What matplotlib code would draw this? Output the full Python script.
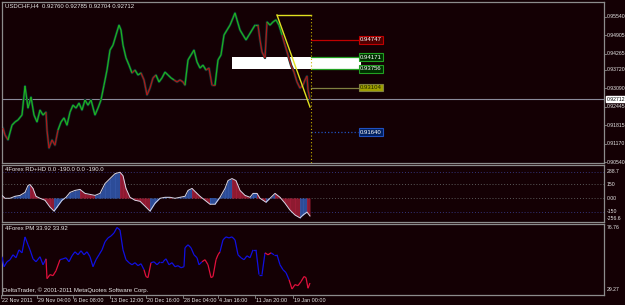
import matplotlib
matplotlib.use('Agg')
import matplotlib.pyplot as plt
from matplotlib.collections import LineCollection
from matplotlib.patches import Rectangle
from matplotlib.transforms import blended_transform_factory
import numpy as np

BG = '#140004'
GRID = '#8c8c8c'
FONT = ['Liberation Sans', 'DejaVu Sans']
plt.rcParams['font.family'] = FONT

W, H = 625, 305

# ---------------- data ----------------
title = "USDCHF,H4  0.92760 0.92785 0.92704 0.92712"
price_ticks = [0.95540, 0.94905, 0.94265, 0.93720, 0.93090, 0.92445, 0.91815, 0.91170, 0.90540]
price_tick_labels = ["0.95540", "0.94905", "0.94265", "0.93720", "0.93090", "0.92445", "0.91815", "0.91170", "0.90540"]
current_price = 0.92712

main_bars = [3, 5, 8, 12, 15, 18, 22, 25, 28, 31, 34, 37, 40, 43, 46, 47, 49, 52, 55, 58,
             61, 64, 67, 70, 73, 76, 79, 82, 85, 88, 91, 95, 98, 101, 104, 107, 110, 113, 116, 119,
             121, 123, 126, 129, 132, 135, 138, 141, 144, 147, 150, 153, 156, 159, 162, 165, 168, 171, 174, 177,
             180, 183, 185, 188, 191, 194, 197, 200, 203, 206, 209, 212, 215, 218, 221, 224, 227, 230, 233, 235,
             237, 240, 243, 246, 249, 252, 255, 258, 260, 262, 265, 267, 270, 273, 276, 279, 282, 285, 288, 291,
             294, 297, 300, 303, 305, 307, 308, 310]
main_close = [0.9171, 0.9147, 0.9130, 0.9181, 0.9192, 0.9199, 0.9216, 0.9316, 0.9240, 0.9278,
              0.9216, 0.9192, 0.9233, 0.9216, 0.9226, 0.9164, 0.9102, 0.9130, 0.9112, 0.9164,
              0.9192, 0.9206, 0.9181, 0.9226, 0.9250, 0.9240, 0.9257, 0.9233, 0.9268, 0.9250,
              0.9268, 0.9216, 0.9240, 0.9268, 0.9319, 0.9371, 0.9440, 0.9457, 0.9492, 0.9526,
              0.9509, 0.9457, 0.9413, 0.9388, 0.9361, 0.9371, 0.9354, 0.9361, 0.9337, 0.9285,
              0.9309, 0.9344, 0.9354, 0.9330, 0.9344, 0.9364, 0.9354, 0.9344, 0.9337, 0.9330,
              0.9337, 0.9330, 0.9319, 0.9406, 0.9423, 0.9440, 0.9399, 0.9378, 0.9388, 0.9371,
              0.9378, 0.9319, 0.9319, 0.9406, 0.9423, 0.9492, 0.9509, 0.9526, 0.9551, 0.9568,
              0.9544, 0.9509, 0.9492, 0.9475, 0.9492, 0.9509, 0.9526, 0.9526, 0.9475, 0.9433,
              0.9413, 0.9537, 0.9526, 0.9537, 0.9544, 0.9526, 0.9492, 0.9457, 0.9423, 0.9388,
              0.9364, 0.9330, 0.9309, 0.9319, 0.9337, 0.9350, 0.9302, 0.92712]
main_trend = ("grrggggggggggggrrrrrgggggggggggggggggggggggggrggrrrrrggggggrrrrgggggggrrrggggggg"
              "ggggggggrrrrgggggrrrrrrrrrrrr")

zone_top, zone_bottom = 0.9416, 0.9375
zone_start, zone_end = 232, 361
tri_start, tri_end = 277, 311
tri_high, tri_low = 0.95609, 0.92435
level_values = [0.94747, 0.9416, 0.9375, 0.93104, 0.91573]
level_labels = ["0.94747", "0.94171", "0.93756", "0.93104", "0.91640"]
level_colors = ['#c00000', '#22a022', '#22a022', '#808040', '#2050c0']
level_box_face = ['#500000', '#003000', '#003000', '#a0a000', '#002060']

rd_title = "4Forex RD+HD 0.0 -190.0 0.0 -190.0"
rd_bars = [2, 5, 10, 15, 20, 25, 28, 30, 33, 36, 40, 45, 50, 54, 57, 62, 66, 70, 75, 80,
           85, 90, 95, 100, 105, 110, 115, 120, 123, 126, 130, 135, 140, 145, 150, 155, 160, 165, 170, 175,
           180, 185, 188, 192, 196, 200, 205, 210, 215, 220, 225, 228, 232, 236, 240, 245, 250, 253, 257, 260,
           263, 266, 270, 275, 280, 285, 290, 295, 300, 303, 307, 310]
rd_values = [29, -3, -3, 19, 29, 62, 138, 149, 106, 19, -3, -25, -101, -145, -101, -25, 8, 62, 84, 95,
             51, 40, 29, 51, 160, 215, 269, 285, 247, 106, 8, -25, -36, -90, -145, -58, -3, 8, 8, -3,
             8, 19, 84, 106, 62, 19, -25, -69, -69, 8, 106, 193, 215, 193, 84, 29, 8, 51, 51, -3,
             -25, -47, -3, 51, 8, -58, -134, -188, -220, -188, -156, -199]
rd_levels = [288.7, 150, 0, -150]
rd_level_labels = ["288.7", "150", "0.00", "-150"]
rd_min_label = "-256.6"
rd_min = -256.6

pm_title = "4Forex PM 33.92 33.92"
pm_bars = [2, 4, 7, 10, 13, 16, 19, 22, 25, 28, 30, 33, 36, 40, 43, 46, 47, 50, 53, 56,
           60, 63, 66, 69, 72, 75, 78, 81, 84, 87, 90, 93, 96, 99, 102, 105, 108, 111, 114, 117,
           120, 123, 126, 129, 132, 135, 138, 141, 144, 146, 148, 151, 154, 157, 160, 163, 166, 169, 172, 175,
           178, 181, 184, 185, 188, 191, 194, 197, 199, 202, 205, 208, 211, 213, 216, 218, 220, 223, 226, 229,
           232, 235, 238, 241, 244, 247, 250, 253, 256, 259, 262, 265, 268, 271, 274, 277, 280, 283, 286, 289,
           292, 295, 298, 301, 304, 306, 308, 310]
pm_values = [54.2, 46.5, 50.3, 51.9, 55.7, 53.4, 59.5, 57.2, 69.5, 63.4, 59.5, 52.6, 50.3, 54.2, 48.0, 52.6,
             37.3, 40.4, 39.6, 43.4, 51.9, 52.6, 53.4, 50.3, 54.9, 58.0, 55.7, 58.8, 55.7, 58.0,
             54.2, 46.5, 51.9, 55.7, 59.5, 65.7, 68.7, 70.2, 72.5, 76.76, 74.8, 59.5, 51.9, 49.6,
             48.0, 49.6, 47.3, 48.8, 44.2, 38.9, 38.1, 49.6, 50.3, 48.0, 50.3, 50.3, 52.6, 48.0,
             49.6, 46.5, 47.3, 45.7, 46.5, 61.1, 63.4, 61.1, 55.7, 53.4, 48.0, 50.3, 51.9, 48.0,
             38.1, 38.9, 51.9, 55.7, 58.0, 67.2, 69.5, 68.7, 69.5, 67.2, 55.7, 53.4, 51.9, 54.9,
             53.4, 59.5, 59.5, 40.4, 40.4, 57.2, 55.7, 57.2, 55.7, 55.7, 48.0, 44.2, 41.9, 36.5,
             29.27, 32.7, 31.9, 35.0, 38.9, 38.1, 29.9, 33.92]
pm_trend = ("bbbbbbbbbbbbbbbbrrrrrbbbbbbbbbbbbbbbbbbbbbbbbbbbbrrrbbbbbbbbbbbbbbbbbbrrrrrrrbbbbbbbbbbbbbbb"
            "rrbbbbbbrrrrrrrrrrrr")
pm_max_label, pm_min_label = "76.76", "29.27"
pm_max, pm_min = 76.76, 29.27

date_bars = [1, 37, 73, 110, 146, 183, 218, 255, 293]
date_labels = ["22 Nov 2011", "29 Nov 04:00", "6 Dec 08:00", "13 Dec 12:00", "20 Dec 16:00",
               "28 Dec 04:00", "4 Jan 16:00", "11 Jan 20:00", "19 Jan 00:00"]
copyright = "DeltaTrader, \u00a9 2001-2011 MetaQuotes Software Corp."

# ---------------- layout ----------------
fig = plt.figure(figsize=(W / 100, H / 100), dpi=100, facecolor=BG)
FS = 4.3
FS_AX = 3.7
FS_DATE = 3.9


def add_panel(x0, y0, x1, y1):
    ax = fig.add_axes([x0 / W, 1 - y1 / H, (x1 - x0) / W, (y1 - y0) / H])
    ax.set_facecolor(BG)
    for s in ax.spines.values():
        s.set_color(GRID)
        s.set_linewidth(0.9)
    ax.set_xticks([])
    ax.set_yticks([])
    ax.set_xlim(2, 604)
    return ax


TXT = dict(color='#e8e8e8', fontsize=FS, family=FONT)
TXA = dict(color='#e8e8e8', fontsize=FS_AX, family=FONT)


def ftext(x, y, s, **kw):
    """text at figure pixel position (from top-left)"""
    d = dict(TXT)
    d.update(kw)
    fig.text(x / W, 1 - y / H, s, **d)


# main panel
ax = add_panel(2, 2, 604, 163)
px_per_unit = 145 / (price_ticks[0] - price_ticks[-1])
ax.set_ylim(price_ticks[-1] - 1 / px_per_unit, price_ticks[0] + 15 / px_per_unit)

ax.add_patch(Rectangle((zone_start, zone_bottom), zone_end - zone_start, zone_top - zone_bottom,
                       facecolor='white', edgecolor='none', zorder=1))
ax.axhline(current_price, color='#8a8a9a', lw=0.8, zorder=1)

ax.plot(main_bars, main_close, color='#0b3535', lw=1.8, zorder=2)
pts = np.column_stack([main_bars, main_close])
segs = np.stack([pts[:-1], pts[1:]], axis=1)
cols = ['#1fb21f' if t == 'g' else '#b01818' for t in main_trend[1:len(main_bars)]]
ax.add_collection(LineCollection(segs, colors=cols, linewidths=0.9, zorder=3))

# levels
for v, lab, c, fc in zip(level_values, level_labels, level_colors, level_box_face):
    ls = ':' if c == '#2050c0' else '-'
    ax.plot([tri_end, zone_end - 3], [v, v], color=c, lw=0.9, ls=ls, zorder=4)
    ax.text(zone_end + 10, v, lab, ha='center', va='center',
            color='white' if c != '#808040' else '#202000',
            fontsize=FS, family=FONT, zorder=6,
            bbox=dict(boxstyle='square,pad=0.2', fc=fc, ec=c, lw=0.8))

ax.plot([tri_start, tri_end], [tri_high, tri_high], color='#e0e020', lw=1.0, zorder=5)
ax.plot([tri_start, tri_end - 1], [tri_high, tri_low], color='#e0e020', lw=1.0, zorder=5)
ax.plot([tri_end, tri_end], [tri_high, ax.get_ylim()[0]], color='#c8b400', lw=0.8,
        ls=(0, (1, 2)), zorder=5)

ftext(5, 6, title, ha='left', va='center')

bt = blended_transform_factory(fig.transFigure, ax.transData)
for v, lab in zip(price_ticks, price_tick_labels):
    ax.plot([604 / W, 606 / W], [v, v], transform=bt, color=GRID, lw=0.6, clip_on=False)
    ax.text(606.5 / W, v, lab, transform=bt, ha='left', va='center', **TXA)
ax.text(606.5 / W, current_price, f"{current_price:.5f}", transform=bt, ha='left', va='center',
        color='black', fontsize=FS_AX, family=FONT,
        bbox=dict(boxstyle='square,pad=0.15', fc='white', ec='white'))

# RD+HD panel
ax1 = add_panel(2, 165, 604, 222)
u = (rd_levels[0] - rd_min) / 50.0
ax1.set_ylim(rd_min - 0.8 * u, rd_levels[0] + 7 * u)
for lv in rd_levels:
    c = '#33337a' if lv in (rd_levels[0], rd_levels[-1]) else '#5a5a5a'
    ax1.axhline(lv, color=c, lw=0.7, ls=(0, (1, 2)), zorder=1)
for i in range(len(rd_bars) - 1):
    up = rd_values[i + 1] >= rd_values[i]
    fc = '#2c4c98' if up else '#8e1a30'
    ax1.fill_between(rd_bars[i:i + 2], 0, rd_values[i:i + 2], color=fc, lw=0, zorder=2)
    ax1.plot([rd_bars[i], rd_bars[i]], [0, rd_values[i]], color='#3a60b8' if up else '#b02040',
             lw=0.5, zorder=2)
ax1.plot(rd_bars, rd_values, color='#d8d8e8', lw=0.7, zorder=3)
ftext(5, 170, rd_title, ha='left', va='center')
bt1 = blended_transform_factory(fig.transFigure, ax1.transData)
for v, lab in zip(rd_levels, rd_level_labels):
    ax1.text(606.5 / W, v, lab, transform=bt1, ha='left', va='center', **TXA)
ax1.text(606.5 / W, rd_min, rd_min_label, transform=bt1, ha='left', va='bottom', **TXA)

# PM panel
ax2 = add_panel(2, 224, 604, 295)
pu = (pm_max - pm_min) / 62.0
ax2.set_ylim(pm_min - 6 * pu, pm_max + 3.5 * pu)
pts = np.column_stack([pm_bars, pm_values])
segs = np.stack([pts[:-1], pts[1:]], axis=1)
cols = ['#1010e0' if t == 'b' else '#e0103c' for t in pm_trend[1:len(pm_bars)]]
ax2.add_collection(LineCollection(segs, colors=cols, linewidths=0.9, zorder=3))
ftext(5, 229, pm_title, ha='left', va='center')
ftext(3, 290, copyright, ha='left', va='center')
bt2 = blended_transform_factory(fig.transFigure, ax2.transData)
ax2.text(606.5 / W, pm_max, pm_max_label, transform=bt2, ha='left', va='center', **TXA)
ax2.text(606.5 / W, pm_min, pm_min_label, transform=bt2, ha='left', va='center', **TXA)

# date axis
bx = blended_transform_factory(ax2.transData, fig.transFigure)
for b, lab in zip(date_bars, date_labels):
    ax2.plot([b, b], [1 - 295 / H, 1 - 298 / H], transform=bx, color=GRID, lw=0.6, clip_on=False)
    ax2.text(b + 1, 1 - 300 / H, lab, transform=bx, ha='left', va='center',
             color='#e8e8e8', fontsize=FS_DATE, family=FONT)

fig.savefig('out.png', dpi=100, facecolor=BG)
